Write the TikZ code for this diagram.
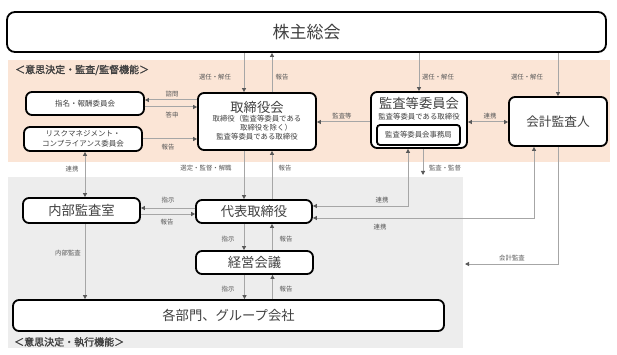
\documentclass[tikz,border=0pt]{standalone}
\usepackage{fontspec}
\setmainfont{Noto Sans CJK JP}
\newfontfamily\secfont{Noto Sans CJK JP}[FakeBold=1.5]
\usetikzlibrary{arrows.meta,calc}
\definecolor{Peach}{HTML}{FBE5D6}
\definecolor{PaleGray}{HTML}{EDEDED}
\definecolor{LineGray}{HTML}{A6A6A6}
\definecolor{TipGray}{HTML}{595959}
\definecolor{Ink}{HTML}{404040}

\begin{document}
\begin{tikzpicture}[x=1pt,y=-1pt,
    box/.style={draw=black,line width=1.8pt,rounded corners=6pt,fill=white,
      inner sep=0pt,align=center,text=Ink},
    bigtext/.style={font=\fontsize{13.3}{15}\selectfont},
    smalltext/.style={font=\fontsize{7.4}{8.7}\selectfont,text=Ink,align=center,inner sep=0pt},
    lbl/.style={font=\fontsize{6.4}{7}\selectfont,text=TipGray,inner sep=0pt},
    conn/.style={draw=LineGray,line width=1pt,
      -{Triangle[length=4pt,width=4pt,color=TipGray]}},
    both/.style={draw=LineGray,line width=1pt,
      {Triangle[length=4pt,width=4pt,color=TipGray]}-{Triangle[length=4pt,width=4pt,color=TipGray]}}]
  \useasboundingbox (0,0) rectangle (617,355);

  \fill[Peach] (8,60) rectangle (610,162);
  \fill[PaleGray] (8,177) rectangle (463,348);
  \node[anchor=west,inner sep=0pt,text=Ink,font=\secfont\fontsize{10}{12}\selectfont]
    (secTop) at (15,70) {＜意思決定・監査/監督機能＞};
  \node[anchor=west,inner sep=0pt,text=Ink,font=\secfont\fontsize{10}{12}\selectfont]
    (secBottom) at (14,342) {＜意思決定・執行機能＞};

  \node[box,rounded corners=8pt,minimum width=599pt,minimum height=40pt,
    font=\fontsize{17}{20}\selectfont] (meeting) at (306.5,32) {株主総会};

  \node[box,minimum width=118pt,minimum height=57pt] (board) at (257,121.5) {};
  \node[bigtext,text=Ink,inner sep=0pt] (boardTitle) at (257,107) {取締役会};
  \node[smalltext] (boardSub) at (257,127.5)
    {取締役（監査等委員である\\\hspace*{18pt}取締役を除く）\\監査等委員である取締役};

  \node[box,minimum width=96pt,minimum height=56pt] (auditcom) at (419,120) {};
  \node[bigtext,text=Ink,inner sep=0pt] (auditTitle) at (419,103.5) {監査等委員会};
  \node[smalltext] (auditSub) at (419,116.5) {監査等委員である取締役};
  \node[box,smalltext,line width=1.8pt,rounded corners=3pt,minimum width=83pt,
    minimum height=20pt] (office) at (418.5,135) {監査等委員会事務局};

  \node[box,minimum width=98pt,minimum height=49pt,font=\fontsize{12.7}{15}\selectfont]
    (accountant) at (558,121.5) {会計監査人};

  \node[box,minimum width=118pt,minimum height=23pt,font=\fontsize{7.5}{9}\selectfont]
    (nomination) at (85,103.5) {指名・報酬委員会};
  \node[box,minimum width=118pt,minimum height=24pt,font=\fontsize{7.5}{9.5}\selectfont]
    (risk) at (83,139) {リスクマネジメント・\\コンプライアンス委員会};

  \node[box,bigtext,minimum width=117pt,minimum height=25pt] (internal) at (81.5,210.5) {内部監査室};
  \node[box,bigtext,minimum width=116pt,minimum height=23pt] (ceo) at (254,211.5) {代表取締役};
  \node[box,bigtext,minimum width=117pt,minimum height=23pt] (mgmt) at (254.5,262.5) {経営会議};
  \node[box,bigtext,minimum width=431pt,minimum height=31pt] (divisions) at (228.5,315.5)
    {各部門、グループ会社};

  \coordinate (auditDown) at (423,175);
  \coordinate (auditTarget) at (465,264);

  \draw[conn] ([xshift=-13pt]board.north |- meeting.south) -- ([xshift=-13pt]board.north);
  \draw[conn] ([xshift=15pt]board.north) -- ([xshift=15pt]board.north |- meeting.south);
  \draw[conn] (meeting.south -| auditcom.north) -- (auditcom.north);
  \draw[conn] (meeting.south -| accountant.north) -- (accountant.north);

  \draw[conn] ([yshift=3.5pt]nomination.east -| board.west) -- ([yshift=3.5pt]nomination.east);
  \draw[conn] ([yshift=-3.5pt]nomination.east) -- ([yshift=-3.5pt]nomination.east -| board.west);
  \draw[conn] (risk.east) -- (risk.east -| board.west);
  \draw[conn] ([yshift=-2pt]auditcom.west) -- ([yshift=-2pt]auditcom.west -| board.east);
  \draw[both] ([yshift=-2pt]auditcom.east) -- ([yshift=-2pt]auditcom.east -| accountant.west);

  \draw[both] ([xshift=3.5pt]internal.north |- risk.south) -- ([xshift=3.5pt]internal.north);
  \draw[conn] ([xshift=-13pt]board.south) -- ([xshift=-13pt]board.south |- ceo.north);
  \draw[conn] ([xshift=15pt]board.south |- ceo.north) -- ([xshift=15pt]board.south);
  \draw[conn] (auditDown |- auditcom.south) -- (auditDown);
  \draw[both] ([xshift=-11pt]auditcom.south) |- ([yshift=5.5pt]ceo.east);
  \draw[both] ([xshift=-24pt]accountant.south) |- ([yshift=-6.5pt]ceo.east);
  \draw[conn] (accountant.south) |- (auditTarget);

  \draw[conn] ([yshift=3.5pt]ceo.west) -- ([yshift=3.5pt]ceo.west -| internal.east);
  \draw[conn] ([yshift=-3.5pt]internal.east) -- ([yshift=-3.5pt]internal.east -| ceo.west);
  \draw[conn] ([xshift=-10pt]ceo.south) -- ([xshift=-10pt]ceo.south |- mgmt.north);
  \draw[conn] ([xshift=18pt]ceo.south |- mgmt.north) -- ([xshift=18pt]ceo.south);
  \draw[conn] ([xshift=-10pt]mgmt.south) -- ([xshift=-10pt]mgmt.south |- divisions.north);
  \draw[conn] ([xshift=18pt]mgmt.south |- divisions.north) -- ([xshift=18pt]mgmt.south);
  \draw[conn] ([xshift=3.5pt]internal.south) -- ([xshift=3.5pt]internal.south |- divisions.north);

  \foreach \x/\y/\t [count=\i] in {215/77/選任・解任,282/77/報告,438/77/選任・解任,
      527/77/選任・解任,172/94/諮問,172/115/答申,168/147/報告,342/116/監査等,
      490/116/連携,72/169/連携,206/168/選定・監督・解職,285/168/報告,445/168/監査・監督,
      168/200/指示,167/222/報告,382/200/連携,380/227/連携,228/239/指示,286/239/報告,
      68/253/内部監査,512/258/会計監査,228/289/指示,286/289/報告}
    \node[lbl] (note\i) at (\x,\y) {\t};
\end{tikzpicture}
\end{document}
